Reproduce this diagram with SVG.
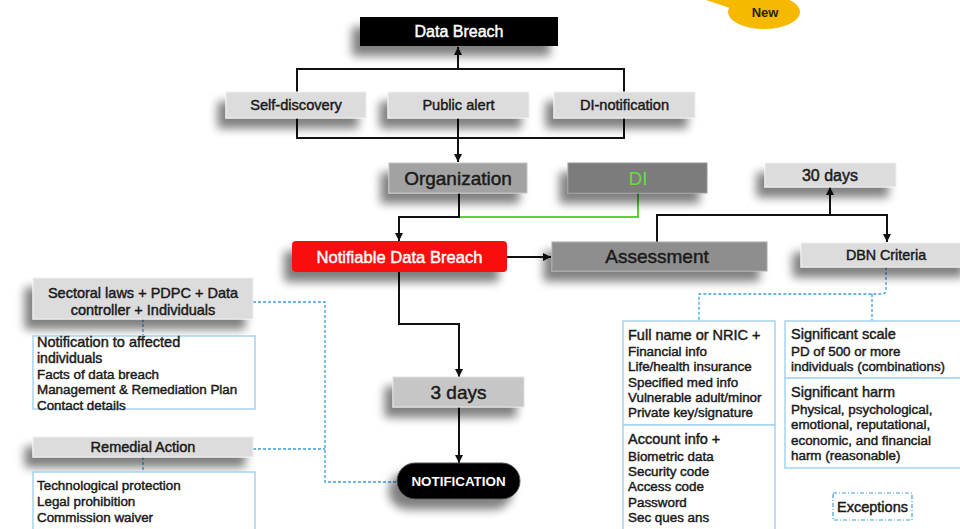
<svg xmlns="http://www.w3.org/2000/svg" width="960" height="529" viewBox="0 0 960 529">
<style>
text{font-family:"Liberation Sans",Arial,sans-serif;}
.c{text-anchor:middle;}
.dk{fill:#1a1a1a;stroke:#1a1a1a;stroke-width:0.45;}
.wt{fill:#ffffff;stroke:#ffffff;stroke-width:0.45;}
.lt{fill:#dcdcdc;stroke:#efefef;stroke-width:1;}
.ln{fill:none;stroke:#111;stroke-width:2;}
.gr{fill:none;stroke:#5ccf3a;stroke-width:2;}
.bd{fill:none;stroke:#3e9fdc;stroke-width:1.3;stroke-dasharray:3 2;}
.lb{fill:#ffffff;stroke:#a6d3ef;stroke-width:1.5;}
.s13{font-size:13.4px;}
.s14{font-size:14.5px;}
</style>
<defs>
<filter id="sh" x="-30%" y="-50%" width="160%" height="250%">
<feGaussianBlur in="SourceAlpha" stdDeviation="5"/>
<feOffset dx="-8" dy="10"/>
<feComponentTransfer><feFuncA type="linear" slope="0.5"/></feComponentTransfer>
<feMerge><feMergeNode/><feMergeNode in="SourceGraphic"/></feMerge>
</filter>
<marker id="ah" viewBox="0 0 10 10" refX="10" refY="5" markerWidth="8" markerHeight="8" orient="auto" markerUnits="userSpaceOnUse">
<path d="M0,0 L10,5 L0,10 z" fill="#111"/>
</marker>
</defs>
<rect width="960" height="529" fill="#ffffff"/>

<g id="new-bubble">
<path d="M706,0 L752,0 L742,12 Q724,6 706,0 Z" fill="#f7b800"/>
<ellipse cx="764" cy="12" rx="36" ry="17" fill="#f7b800"/>
<text x="765" y="17" class="c" style="font-size:13px;font-weight:bold;fill:#2a2200">New</text>
</g>

<g id="connectors">
<path class="ln" d="M458,69 V47" marker-end="url(#ah)"/>
<path class="ln" d="M297,92 V69 H624 V92"/>
<path class="ln" d="M297,118 V138 H624 V118 M458,118 V138"/>
<path class="ln" d="M458,138 V162" marker-end="url(#ah)"/>
<path class="gr" d="M459,217 H638 V193"/>
<path class="ln" d="M459,193 V217 H399 V241" marker-end="url(#ah)"/>
<path class="ln" d="M507,257 H551" marker-end="url(#ah)"/>
<path class="ln" d="M657,242 V215 H887 V242" marker-end="url(#ah)"/>
<path class="ln" d="M830,215 V187" marker-end="url(#ah)"/>
<path class="ln" d="M399,272 V324 H459 V377" marker-end="url(#ah)"/>
<path class="ln" d="M459,407 V463" marker-end="url(#ah)"/>
<path class="bd" d="M253,302 H325 V482 H397"/>
<path class="bd" d="M253,449 H325"/>
<path class="bd" d="M143,319 V336 M143,457 V472"/>
<path class="bd" d="M886,267 V290 Q886,294 882,294 H699 V321 M872,294 V321"/>
</g>

<g id="data-breach">
<rect x="360" y="17" width="198" height="29" fill="#000" filter="url(#sh)"/>
<text x="459" y="37" class="c wt" style="font-size:16px">Data Breach</text>
</g>
<g id="self-discovery">
<rect x="226" y="92" width="140" height="26" class="lt" filter="url(#sh)"/>
<text x="296" y="110" class="c dk" style="font-size:14.6px">Self-discovery</text>
</g>
<g id="public-alert">
<rect x="388" y="92" width="141" height="26" class="lt" filter="url(#sh)"/>
<text x="458.5" y="110" class="c dk" style="font-size:14.6px">Public alert</text>
</g>
<g id="di-notification">
<rect x="554" y="92" width="141" height="26" class="lt" filter="url(#sh)"/>
<text x="624.5" y="110" class="c dk" style="font-size:14.6px">DI-notification</text>
</g>
<g id="organization">
<rect x="389" y="163" width="138" height="30" fill="#a2a2a2" stroke="#c4c4c4" filter="url(#sh)"/>
<text x="458" y="185" class="c dk" style="font-size:19px">Organization</text>
</g>
<g id="di">
<rect x="568" y="163" width="139" height="30" fill="#7b7b7b" stroke="#999" filter="url(#sh)"/>
<text x="638" y="185" class="c" style="font-size:19px;fill:#66dd3c">DI</text>
</g>
<g id="thirty-days">
<rect x="765" y="163" width="131" height="24" class="lt" filter="url(#sh)"/>
<text x="830" y="181" class="c dk" style="font-size:16px">30 days</text>
</g>
<g id="notifiable-data-breach">
<rect x="292" y="241" width="215" height="31" rx="4" fill="#fb0a0a" filter="url(#sh)"/>
<text x="399.5" y="263" class="c wt" style="font-size:16.6px">Notifiable Data Breach</text>
</g>
<g id="assessment">
<rect x="552" y="242" width="215" height="29" fill="#8e8e8e" stroke="#aaa" filter="url(#sh)"/>
<text x="657" y="263" class="c dk" style="font-size:19px">Assessment</text>
</g>
<g id="dbn-criteria">
<rect x="801" y="243" width="170" height="24" class="lt" filter="url(#sh)"/>
<text x="886" y="260" class="c dk" style="font-size:14.3px">DBN Criteria</text>
</g>
<g id="three-days">
<rect x="393" y="377" width="131" height="30" fill="#c6c6c6" stroke="#e2e2e2" filter="url(#sh)"/>
<text x="458.5" y="399" class="c dk" style="font-size:19px">3 days</text>
</g>
<g id="notification">
<rect x="397" y="463" width="123" height="36" rx="18" fill="#000" stroke="#555" filter="url(#sh)"/>
<text x="458.5" y="486" class="c" style="font-size:13.4px;font-weight:bold;fill:#fff">NOTIFICATION</text>
</g>

<g id="sectoral">
<rect x="33" y="278" width="220" height="41" class="lt" filter="url(#sh)"/>
<text x="143" y="298" class="c dk s14">Sectoral laws + PDPC + Data</text>
<text x="143" y="315" class="c dk s14">controller + Individuals</text>
</g>
<g id="notification-list">
<rect x="33" y="336" width="222" height="73" class="lb"/>
<text x="37" y="347" class="dk s14">Notification to affected</text>
<text x="37" y="363" class="dk" style="font-size:14px">individuals</text>
<text x="37" y="379" class="dk s13">Facts of data breach</text>
<text x="37" y="394" class="dk s13">Management &amp; Remediation Plan</text>
<text x="37" y="410" class="dk s13">Contact details</text>
</g>
<g id="remedial-action">
<rect x="33" y="437" width="220" height="20" class="lt" filter="url(#sh)"/>
<text x="143" y="452" class="c dk s14">Remedial Action</text>
</g>
<g id="remedial-list">
<rect x="33" y="472" width="222" height="60" class="lb"/>
<text x="37" y="490" class="dk s13">Technological protection</text>
<text x="37" y="506" class="dk s13">Legal prohibition</text>
<text x="37" y="522" class="dk s13">Commission waiver</text>
</g>

<g id="full-name-list">
<rect x="623" y="321" width="152" height="104" class="lb"/>
<text x="628" y="340" class="dk s14">Full name or NRIC +</text>
<text x="628" y="356" class="dk s13">Financial info</text>
<text x="628" y="371" class="dk s13">Life/health insurance</text>
<text x="628" y="387" class="dk s13">Specified med info</text>
<text x="628" y="402" class="dk s13">Vulnerable adult/minor</text>
<text x="628" y="417" class="dk s13">Private key/signature</text>
</g>
<g id="account-list">
<rect x="623" y="425" width="152" height="110" class="lb"/>
<text x="628" y="444" class="dk s14">Account info +</text>
<text x="628" y="461" class="dk s13">Biometric data</text>
<text x="628" y="476" class="dk s13">Security code</text>
<text x="628" y="491" class="dk s13">Access code</text>
<text x="628" y="507" class="dk s13">Password</text>
<text x="628" y="522" class="dk s13">Sec ques ans</text>
</g>
<g id="significant-scale">
<rect x="785" y="321" width="180" height="57" class="lb"/>
<text x="791" y="339" class="dk s14">Significant scale</text>
<text x="791" y="356" class="dk s13">PD of 500 or more</text>
<text x="791" y="371" class="dk s13">individuals (combinations)</text>
</g>
<g id="significant-harm">
<rect x="785" y="378" width="180" height="90" class="lb"/>
<text x="791" y="397" class="dk s14">Significant harm</text>
<text x="791" y="414" class="dk s13">Physical, psychological,</text>
<text x="791" y="429" class="dk s13">emotional, reputational,</text>
<text x="791" y="445" class="dk s13">economic, and financial</text>
<text x="791" y="460" class="dk s13">harm (reasonable)</text>
</g>
<g id="exceptions">
<rect x="833" y="493" width="79" height="27" fill="none" stroke="#3e9fdc" stroke-width="1.2" stroke-dasharray="4 2 1 2"/>
<text x="872.5" y="512" class="c dk" style="font-size:14.5px">Exceptions</text>
</g>
</svg>
